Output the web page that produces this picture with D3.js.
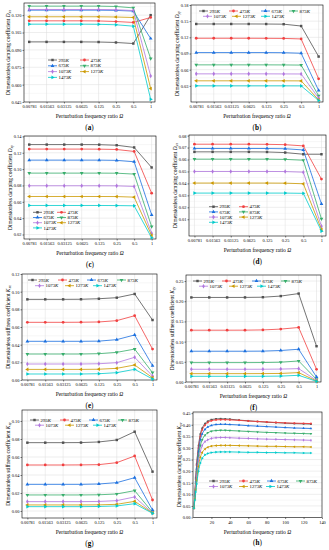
<!DOCTYPE html>
<html><head><meta charset="utf-8">
<script src="https://cdn.jsdelivr.net/npm/d3@7"></script>
<style>body{margin:0;background:#fff}svg{display:block}</style>
</head><body>
<svg id="c" width="329" height="550"></svg>
<script>
const temps = ["293","473","673","873","1073","1273","1473"];
const colors = ["#515151","#F14040","#1A6FDF","#37AD6B","#B177DE","#CC9900","#00CBCC"];
const ratioLabels = ["0.00781","0.01563","0.03125","0.0625","0.125","0.25","0.5","1"];

const valuesA = [
  [0.0969,0.0969,0.0969,0.0969,0.0968,0.0964,0.0955,0.1200],
  [0.1151,0.1151,0.1151,0.1151,0.1150,0.1145,0.1137,0.1180],
  [0.1243,0.1243,0.1243,0.1243,0.1243,0.1241,0.1235,0.0998],
  [0.1278,0.1278,0.1278,0.1278,0.1278,0.1275,0.1263,0.0825],
  [0.1249,0.1249,0.1249,0.1249,0.1249,0.1247,0.1240,0.0675],
  [0.1186,0.1186,0.1186,0.1186,0.1186,0.1184,0.1180,0.0566],
  [0.1122,0.1122,0.1122,0.1122,0.1121,0.1117,0.1105,0.0473]
];
const valuesB = [
  [0.1448,0.1448,0.1448,0.1448,0.1447,0.1444,0.1410,0.0843],
  [0.1183,0.1183,0.1183,0.1183,0.1182,0.1180,0.1170,0.0430],
  [0.0917,0.0917,0.0917,0.0917,0.0917,0.0915,0.0905,0.0214],
  [0.0689,0.0689,0.0689,0.0689,0.0689,0.0688,0.0685,0.0115],
  [0.0522,0.0522,0.0522,0.0522,0.0522,0.0521,0.0520,0.0072],
  [0.0393,0.0393,0.0393,0.0393,0.0393,0.0393,0.0392,0.0040],
  [0.0300,0.0300,0.0300,0.0300,0.0300,0.0300,0.0299,0.0028]
];
const valuesC = [
  [0.1300,0.1300,0.1300,0.1300,0.1299,0.1292,0.1265,0.1020],
  [0.1245,0.1245,0.1245,0.1245,0.1244,0.1240,0.1216,0.0706],
  [0.1110,0.1110,0.1110,0.1110,0.1110,0.1107,0.1090,0.0441],
  [0.0951,0.0951,0.0951,0.0951,0.0951,0.0950,0.0939,0.0298],
  [0.0796,0.0796,0.0796,0.0796,0.0796,0.0795,0.0788,0.0216],
  [0.0665,0.0665,0.0665,0.0665,0.0665,0.0664,0.0657,0.0188],
  [0.0555,0.0555,0.0555,0.0555,0.0555,0.0554,0.0551,0.0160]
];
const valuesD = [
  [0.0664,0.0664,0.0664,0.0664,0.0663,0.0658,0.0644,0.0644],
  [0.0728,0.0728,0.0728,0.0728,0.0727,0.0724,0.0714,0.0436],
  [0.0692,0.0692,0.0692,0.0692,0.0692,0.0690,0.0680,0.0228],
  [0.0603,0.0603,0.0603,0.0603,0.0603,0.0601,0.0594,0.0103],
  [0.0500,0.0500,0.0500,0.0500,0.0500,0.0499,0.0494,0.0042],
  [0.0403,0.0403,0.0403,0.0403,0.0403,0.0402,0.0397,0.0015],
  [0.0319,0.0319,0.0319,0.0319,0.0319,0.0319,0.0317,0.0000]
];
const valuesE = [
  [0.0913,0.0913,0.0913,0.0914,0.0920,0.0932,0.0974,0.0679],
  [0.0653,0.0653,0.0653,0.0654,0.0657,0.0672,0.0728,0.0350],
  [0.0438,0.0438,0.0438,0.0438,0.0440,0.0457,0.0510,0.0162],
  [0.0294,0.0294,0.0294,0.0294,0.0298,0.0313,0.0350,0.0083],
  [0.0181,0.0181,0.0181,0.0181,0.0184,0.0196,0.0257,0.0045],
  [0.0120,0.0120,0.0120,0.0120,0.0122,0.0132,0.0170,0.0026],
  [0.0068,0.0068,0.0068,0.0068,0.0071,0.0083,0.0121,0.0011]
];
const valuesF = [
  [0.2094,0.2094,0.2094,0.2095,0.2100,0.2128,0.2190,0.0886],
  [0.1283,0.1283,0.1283,0.1284,0.1290,0.1310,0.1350,0.0315],
  [0.0762,0.0762,0.0762,0.0762,0.0765,0.0780,0.0811,0.0124],
  [0.0480,0.0480,0.0480,0.0480,0.0482,0.0490,0.0521,0.0066],
  [0.0315,0.0315,0.0315,0.0315,0.0316,0.0320,0.0331,0.0040],
  [0.0207,0.0207,0.0207,0.0207,0.0208,0.0212,0.0232,0.0025],
  [0.0141,0.0141,0.0141,0.0141,0.0142,0.0146,0.0166,0.0017]
];
const valuesG = [
  [0.0759,0.0759,0.0759,0.0760,0.0767,0.0789,0.0881,0.0437],
  [0.0511,0.0511,0.0511,0.0512,0.0515,0.0537,0.0611,0.0122],
  [0.0296,0.0296,0.0296,0.0296,0.0300,0.0315,0.0370,0.0011],
  [0.0178,0.0178,0.0178,0.0178,0.0180,0.0189,0.0226,-0.0015],
  [0.0104,0.0104,0.0104,0.0104,0.0106,0.0115,0.0156,-0.0022],
  [0.0067,0.0067,0.0067,0.0067,0.0068,0.0074,0.0107,-0.0022],
  [0.0048,0.0048,0.0048,0.0048,0.0050,0.0056,0.0081,-0.0026]
];
const omegaH = [1,2,3,4,6,8,10,13,16,20,25,30,35,40,50,60,70,80,90,100,110,120,128];
const valuesH = [
  [0.04,0.10,0.17,0.23,0.31,0.36,0.385,0.405,0.415,0.422,0.425,0.426,0.425,0.424,0.420,0.417,0.414,0.411,0.409,0.407,0.405,0.404,0.403],
  [0.04,0.10,0.165,0.225,0.30,0.35,0.378,0.398,0.410,0.417,0.421,0.422,0.422,0.421,0.419,0.416,0.414,0.412,0.410,0.408,0.407,0.406,0.405],
  [0.04,0.095,0.155,0.21,0.285,0.335,0.36,0.38,0.39,0.397,0.401,0.402,0.402,0.401,0.399,0.396,0.394,0.392,0.390,0.388,0.386,0.385,0.384],
  [0.04,0.09,0.145,0.195,0.265,0.31,0.335,0.355,0.365,0.372,0.375,0.376,0.376,0.375,0.373,0.371,0.369,0.367,0.366,0.364,0.363,0.362,0.361],
  [0.04,0.085,0.135,0.18,0.245,0.285,0.31,0.327,0.335,0.341,0.344,0.345,0.345,0.344,0.342,0.341,0.339,0.338,0.337,0.336,0.335,0.334,0.333],
  [0.04,0.08,0.12,0.16,0.22,0.26,0.28,0.295,0.303,0.308,0.310,0.311,0.311,0.311,0.310,0.309,0.308,0.307,0.307,0.306,0.305,0.305,0.304],
  [0.04,0.075,0.11,0.145,0.20,0.235,0.255,0.27,0.276,0.28,0.282,0.283,0.283,0.283,0.282,0.281,0.281,0.280,0.280,0.279,0.279,0.278,0.278]
];

const yTicksA = [0.045,0.060,0.075,0.090,0.105,0.120];
const yTicksB = [0.03,0.06,0.09,0.12,0.15,0.18];
const yTicksC = [0.02,0.04,0.06,0.08,0.10,0.12,0.14];
const yTicksD = [0.01,0.02,0.03,0.04,0.05,0.06,0.07,0.08];
const yTicksE = [0.00,0.02,0.04,0.06,0.08,0.10,0.12];
const yTicksF = [0.00,0.05,0.10,0.15,0.20,0.25];
const yTicksG = [0.00,0.02,0.04,0.06,0.08,0.10];
const yTicksH = [0.00,0.05,0.10,0.15,0.20,0.25,0.30,0.35,0.40,0.45];
const xTicksH = [20,40,60,80,100,120,140];

const SERIF = "'Liberation Serif','Times New Roman',serif";
const svg = d3.select("#c");

const symTypes = [
  {t:d3.symbolSquare, r:0}, {t:d3.symbolCircle, r:0}, {t:d3.symbolTriangle, r:0},
  {t:d3.symbolTriangle, r:180}, {t:d3.symbolDiamond, r:0}, {t:d3.symbolTriangle, r:-90},
  {t:d3.symbolTriangle, r:90}
];
function marker(g, i, cx, cy, size){
  g.append("path").attr("d", d3.symbol().type(symTypes[i].t).size(size)())
    .attr("transform", `translate(${cx},${cy}) rotate(${symTypes[i].r})`)
    .attr("fill", colors[i]);
}

const panels = [
 {lab:"a", L:24, R:155, T:3, B:102, yd:[0.045,0.1305], yt:yTicksA, fmt:".3f", v:valuesA, kind:"damping", sym:"D", sub:"xx", tOff:14,
  leg:{y:60, h:5.8, xs:[[48,80],[48,80],[48,80],[48]]}},
 {lab:"b", L:191, R:323, T:5, B:102, yd:[0,0.18], yt:yTicksB, fmt:".2f", v:valuesB, kind:"damping", sym:"D", sub:"yy", tOff:12.5,
  leg:{y:11, h:5.3, xs:[[199,229,261,289],[203,232,261]]}},
 {lab:"c", L:24, R:156, T:136, B:239, yd:[0.0145,0.1405], yt:yTicksC, fmt:".2f", v:valuesC, kind:"damping", sym:"D", sub:"xy", tOff:12.5,
  leg:{y:212.3, h:5.2, xs:[[33,57],[33,57],[33,57],[33]]}},
 {lab:"d", L:189, R:326, T:135, B:236, yd:[-0.004,0.0805], yt:yTicksD, fmt:".2f", v:valuesD, kind:"damping", sym:"D", sub:"yx", tOff:12.5,
  leg:{y:206.7, h:5.2, xs:[[209,239],[209,239],[209,239],[209]]}},
 {lab:"e", L:22, R:157, T:274, B:380, yd:[0,0.12], yt:yTicksE, fmt:".2f", v:valuesE, kind:"stiffness", sym:"K", sub:"xx", tOff:12.5,
  leg:{y:280, h:5.7, xs:[[28,58,87,117],[35,65,93]]}},
 {lab:"f", L:186, R:321, T:275, B:382, yd:[0,0.265], yt:yTicksF, fmt:".2f", v:valuesF, kind:"stiffness", sym:"K", sub:"yy", tOff:12.5,
  leg:{y:281, h:5.2, xs:[[193,222,252,281],[199,229,257]]}},
 {lab:"g", L:22, R:157, T:410, B:518, yd:[-0.0078,0.1122], yt:yTicksG, fmt:".2f", v:valuesG, kind:"stiffness", sym:"K", sub:"xy", tOff:12.5,
  leg:{y:420, h:5.2, xs:[[30,60,89,118],[35,65,93]]}},
 {lab:"h", L:193, R:322, T:412, B:517.5, yd:[0,0.455], yt:yTicksH, fmt:".2f", v:valuesH, kind:"damping", sym:"K", sub:"yx", tOff:12.5, cont:true,
  leg:{y:481, h:5.5, xs:[[209,239,267,296],[209,239,266]]}}
];

panels.forEach(p => {
  const g = svg.append("g");
  const x = p.cont ? d3.scaleLinear().domain([0,140]).range([p.L,p.R])
                   : d3.scaleLinear().domain([-0.3,7.25]).range([p.L,p.R]);
  const y = d3.scaleLinear().domain(p.yd).range([p.B,p.T]);
  const step = p.yt[1]-p.yt[0];
  const minors = [];
  for (let k=0;k<p.yt.length+1;k++){ const m = p.yt[0]+step*(k-0.5); if(m>p.yd[0]&&m<p.yd[1]) minors.push(m);}
  g.selectAll(null).data(minors).join("line")
    .attr("x1",p.L).attr("x2",p.R).attr("y1",d=>y(d)).attr("y2",d=>y(d))
    .attr("stroke","#efefef").attr("stroke-width",0.5);
  g.selectAll(null).data(p.yt.filter(d=>d>p.yd[0]&&d<p.yd[1])).join("line")
    .attr("x1",p.L).attr("x2",p.R).attr("y1",d=>y(d)).attr("y2",d=>y(d))
    .attr("stroke","#dcdcdc").attr("stroke-width",0.5);
  if(!p.cont){
    g.selectAll(null).data(d3.range(8)).join("line")
      .attr("x1",d=>x(d)).attr("x2",d=>x(d)).attr("y1",p.T).attr("y2",p.B)
      .attr("stroke","#dcdcdc").attr("stroke-width",0.5);
  }
  const ya = g.append("g").attr("transform",`translate(${p.L},0)`)
    .call(d3.axisLeft(y).tickValues(p.yt).tickFormat(d3.format(p.fmt)).tickSize(1.5).tickPadding(1));
  const xa = g.append("g").attr("transform",`translate(0,${p.B})`)
    .call(p.cont ? d3.axisBottom(x).tickValues(xTicksH).tickSize(1.5).tickPadding(1.5)
                 : d3.axisBottom(x).tickValues(d3.range(8)).tickFormat(i=>ratioLabels[i]).tickSize(1.5).tickPadding(1.5));
  [ya,xa].forEach(a=>{
    a.attr("font-size",4.4).attr("font-family",SERIF);
    a.select(".domain").remove();
    a.selectAll("line").attr("stroke","#000").attr("stroke-width",0.5);
    a.selectAll("text").attr("fill","#000");
  });
  g.append("rect").attr("x",p.L).attr("y",p.T).attr("width",p.R-p.L).attr("height",p.B-p.T)
    .attr("fill","none").attr("stroke","#000").attr("stroke-width",0.6);
  p.v.forEach((vals,i)=>{
    const pts = vals.map((v,j)=>[p.cont?omegaH[j]:j, v]);
    const line = d3.line().x(d=>x(d[0])).y(d=>y(d[1]));
    if(p.cont) line.curve(d3.curveMonotoneX);
    g.append("path").attr("d",line(pts)).attr("fill","none").attr("stroke",colors[i]).attr("stroke-width",p.cont?0.9:0.8);
    pts.forEach(d=>marker(g,i,x(d[0]),y(d[1]),p.cont?3:6));
  });
  let idx=0;
  p.leg.xs.forEach((row,r)=>{
    row.forEach(lx=>{
      const ly = p.leg.y + r*p.leg.h;
      const i = idx++;
      g.append("line").attr("x1",lx).attr("x2",lx+9).attr("y1",ly).attr("y2",ly)
        .attr("stroke",colors[i]).attr("stroke-width",0.8);
      marker(g,i,lx+4.5,ly,6);
      const t = g.append("text").attr("x",lx+10.5).attr("y",ly+1.6)
        .attr("font-size",4.8).attr("font-family",SERIF).attr("fill","#000");
      t.append("tspan").text(temps[i]);
      t.append("tspan").attr("font-style","italic").text("K");
    });
  });
  const cy = (p.T+p.B)/2, tx = p.L - p.tOff;
  const yt = g.append("text").attr("transform",`translate(${tx},${cy}) rotate(-90)`)
    .attr("text-anchor","middle").attr("font-size",5.4).attr("font-family",SERIF).attr("fill","#000");
  yt.append("tspan").text(`Dimensionless ${p.kind} coefficient `);
  yt.append("tspan").attr("font-style","italic").text(p.sym);
  yt.append("tspan").attr("font-style","italic").attr("font-size",3.8).attr("dy",1).text(p.sub);
  const cx = (p.L+p.R)/2;
  const xt = g.append("text").attr("x",cx).attr("y",p.B+16).attr("text-anchor","middle")
    .attr("font-size",5.5).attr("font-family",SERIF).attr("fill","#000");
  xt.append("tspan").text("Perturbation frequency ratio ");
  xt.append("tspan").attr("font-style","italic").text("Ω");
  const pl = g.append("text").attr("x",cx).attr("y",p.B+27.5).attr("text-anchor","middle")
    .attr("font-size",7.2).attr("font-family",SERIF).attr("fill","#000");
  pl.append("tspan").text("(");
  pl.append("tspan").attr("font-weight","bold").text(p.lab);
  pl.append("tspan").text(")");
});
</script>
</body></html>
